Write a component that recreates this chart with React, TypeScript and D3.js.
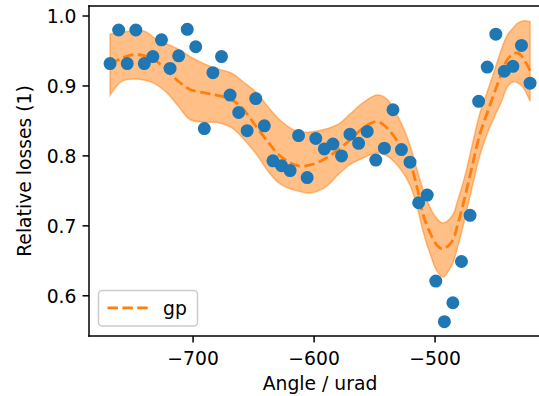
import React from "react";
import * as d3 from "d3";

// Observed points
const obsX = [
  -768.6, -761.5, -754.4, -747.3, -740.3, -733.2, -726.1, -719.0, -711.9, -704.8,
  -697.8, -690.7, -683.6, -676.5, -669.4, -662.3, -655.3, -648.2, -641.1, -634.0,
  -626.9, -619.8, -612.8, -605.7, -598.6, -591.5, -584.4, -577.3, -570.3, -563.2,
  -556.1, -549.0, -541.9, -534.8, -527.8, -520.7, -513.6, -506.5, -499.4, -492.3,
  -485.3, -478.2, -471.1, -464.0, -456.9, -449.8, -442.8, -435.7, -428.6, -421.5,
];
const obsY = [
  0.932, 0.980, 0.932, 0.980, 0.932, 0.942, 0.966, 0.925, 0.943, 0.981,
  0.956, 0.839, 0.919, 0.942, 0.887, 0.862, 0.836, 0.882, 0.843, 0.793,
  0.786, 0.779, 0.829, 0.769, 0.825, 0.810, 0.817, 0.800, 0.831, 0.818,
  0.835, 0.794, 0.811, 0.866, 0.809, 0.791, 0.733, 0.744, 0.621, 0.563,
  0.590, 0.649, 0.715, 0.878, 0.927, 0.974, 0.921, 0.928, 0.958, 0.904,
];

// GP prediction
const gpX = [
  -768.6, -758.7, -747.9, -739.7, -731.4, -721.5, -711.6, -702.5, -690.1, -681.0,
  -667.8, -658.7, -647.9, -638.0, -628.1, -614.0, -603.3, -590.9, -578.5, -570.2,
  -559.5, -547.9, -539.7, -528.9, -520.7, -514.9, -509.9, -504.1, -498.3, -493.4,
  -485.9, -481.0, -475.2, -469.4, -462.8, -456.2, -450.4, -444.6, -440.5, -435.5,
  -431.4, -427.3, -421.5,
];
const gpMean = [
  0.931, 0.940, 0.945, 0.943, 0.937, 0.922, 0.906, 0.895, 0.890, 0.887,
  0.880, 0.867, 0.842, 0.820, 0.800, 0.786, 0.787, 0.796, 0.811, 0.823,
  0.840, 0.849, 0.840, 0.815, 0.790, 0.755, 0.716, 0.690, 0.672, 0.667,
  0.678, 0.704, 0.742, 0.785, 0.832, 0.865, 0.893, 0.920, 0.937, 0.946,
  0.947, 0.940, 0.922,
];
const gpUpper = [
  0.974, 0.977, 0.979, 0.978, 0.968, 0.960, 0.952, 0.942, 0.931, 0.925,
  0.918, 0.906, 0.891, 0.870, 0.851, 0.835, 0.834, 0.838, 0.847, 0.860,
  0.876, 0.887, 0.881, 0.850, 0.815, 0.780, 0.752, 0.726, 0.710, 0.704,
  0.714, 0.738, 0.772, 0.815, 0.862, 0.895, 0.925, 0.955, 0.972, 0.983,
  0.990, 0.993, 0.992,
];
const gpLower = [
  0.887, 0.907, 0.910, 0.908, 0.903, 0.890, 0.870, 0.852, 0.848, 0.848,
  0.840, 0.825, 0.803, 0.778, 0.760, 0.750, 0.747, 0.755, 0.776, 0.788,
  0.797, 0.804, 0.800, 0.782, 0.758, 0.728, 0.692, 0.660, 0.635, 0.627,
  0.645, 0.672, 0.712, 0.755, 0.802, 0.835, 0.858, 0.880, 0.898, 0.906,
  0.904, 0.898, 0.878,
];

const xTicks = [-700, -600, -500];
const yTicks = [0.6, 0.7, 0.8, 0.9, 1.0];
const xDomain = [-786, -404.2];
const yDomain = [0.5425, 1.0143];

const W = 539;
const H = 396;
const L = 89, R = 551, T = 6, B = 336;
const FONT = "'DejaVu Sans', sans-serif";
const FS = 18.75;
const BLUE = "#1f77b4";
const ORANGE = "#ff7f0e";

export default function App() {
  const x = d3.scaleLinear().domain(xDomain).range([L, R]);
  const y = d3.scaleLinear().domain(yDomain).range([B, T]);

  const gp = gpX.map((v, i) => ({ x: v, m: gpMean[i], u: gpUpper[i], l: gpLower[i] }));
  const curve = d3.curveCatmullRom.alpha(0.5);
  const area = d3
    .area<any>()
    .x((d) => x(d.x))
    .y0((d) => y(d.l))
    .y1((d) => y(d.u))
    .curve(curve);
  const line = d3
    .line<any>()
    .x((d) => x(d.x))
    .y((d) => y(d.m))
    .curve(curve);

  const tickLen = 6.5;

  return (
    <svg
      width={W}
      height={H}
      style={{ position: "absolute", left: 0, top: 0, background: "#fff" }}
      fontFamily={FONT}
    >
      <rect x={0} y={0} width={W} height={H} fill="#fff" />
      <path
        d={area(gp) || ""}
        fill={ORANGE}
        fillOpacity={0.5}
        stroke={ORANGE}
        strokeOpacity={0.5}
        strokeWidth={1.5}
      />
      <path
        d={line(gp) || ""}
        fill="none"
        stroke={ORANGE}
        strokeWidth={2.8}
        strokeDasharray="10.4,4.5"
      />
      {obsX.map((v, i) => (
        <circle
          key={i}
          cx={x(v)}
          cy={y(obsY[i])}
          r={5.6}
          fill={BLUE}
          stroke={BLUE}
          strokeWidth={1.8}
        />
      ))}
      {/* spines */}
      <line x1={L} x2={L} y1={T} y2={B} stroke="#000" strokeWidth={1.5} strokeLinecap="square" />
      <line x1={L} x2={R} y1={B} y2={B} stroke="#000" strokeWidth={1.5} strokeLinecap="square" />
      <line x1={L} x2={R} y1={T} y2={T} stroke="#000" strokeWidth={1.5} strokeLinecap="square" />
      <line x1={R} x2={R} y1={T} y2={B} stroke="#000" strokeWidth={1.5} />
      {/* x ticks */}
      {xTicks.map((t) => (
        <g key={t}>
          <line x1={x(t)} x2={x(t)} y1={B} y2={B + tickLen} stroke="#000" strokeWidth={1.5} />
          <text x={x(t)} y={B + 29} fontSize={FS} textAnchor="middle" fill="#000">
            {"\u2212" + Math.abs(t)}
          </text>
        </g>
      ))}
      {/* y ticks */}
      {yTicks.map((t) => (
        <g key={t}>
          <line x1={L - tickLen} x2={L} y1={y(t)} y2={y(t)} stroke="#000" strokeWidth={1.5} />
          <text x={L - tickLen - 6} y={y(t) + 6.8} fontSize={FS} textAnchor="end" fill="#000">
            {t.toFixed(1)}
          </text>
        </g>
      ))}
      {/* axis labels */}
      <text x={(L + R) / 2} y={390} fontSize={FS} textAnchor="middle" fill="#000">
        Angle / urad
      </text>
      <text
        transform={`translate(31,${(T + B) / 2}) rotate(-90)`}
        fontSize={FS}
        textAnchor="middle"
        fill="#000"
      >
        Relative losses (1)
      </text>
      {/* legend */}
      <g>
        <rect
          x={98.5}
          y={290.5}
          width={99}
          height={35.5}
          rx={3.5}
          fill="#fff"
          fillOpacity={0.8}
          stroke="#cccccc"
          strokeWidth={1.5}
        />
        <line
          x1={107.5}
          x2={148.5}
          y1={307.8}
          y2={307.8}
          stroke={ORANGE}
          strokeWidth={2.8}
          strokeDasharray="10.4,4.5"
        />
        <text x={163} y={314.5} fontSize={FS} fill="#000">
          gp
        </text>
      </g>
    </svg>
  );
}
